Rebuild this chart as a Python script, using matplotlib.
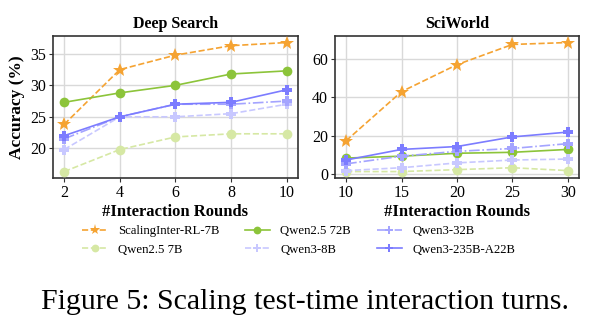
import matplotlib.pyplot as plt

plt.rcParams['font.family'] = ['Liberation Serif', 'DejaVu Serif']

# Deep Search results
ds_rounds = [2, 4, 6, 8, 10]
ds_scaling = [23.8, 32.5, 34.8, 36.3, 36.8]
ds_q25_7b = [16.3, 19.8, 21.8, 22.3, 22.3]
ds_q25_72b = [27.3, 28.8, 30.0, 31.8, 32.3]
ds_q3_8b = [19.8, 25.0, 25.0, 25.5, 27.0]
ds_q3_32b = [21.5, 25.0, 27.0, 27.0, 27.5]
ds_q3_235b = [22.0, 25.0, 27.0, 27.3, 29.3]

# SciWorld results
sw_rounds = [10, 15, 20, 25, 30]
sw_scaling = [17.5, 43.0, 57.0, 67.5, 68.5]
sw_q25_7b = [1.5, 1.5, 2.5, 3.5, 2.0]
sw_q25_72b = [8.5, 9.5, 11.0, 11.5, 13.0]
sw_q3_8b = [2.0, 3.5, 6.0, 7.5, 8.0]
sw_q3_32b = [5.5, 9.5, 12.0, 13.5, 16.0]
sw_q3_235b = [7.5, 13.0, 14.5, 19.5, 22.0]

models = ['ScalingInter-RL-7B', 'Qwen2.5 7B', 'Qwen2.5 72B',
          'Qwen3-8B', 'Qwen3-32B', 'Qwen3-235B-A22B']
styles = {
    'ScalingInter-RL-7B': dict(color='#F5A332', ls='--', marker='*', ms=10),
    'Qwen2.5 7B': dict(color='#D6E8A4', ls='--', marker='o', ms=7),
    'Qwen2.5 72B': dict(color='#8CC43A', ls='-', marker='o', ms=7),
    'Qwen3-8B': dict(color='#C8C8FF', ls='--', marker='P', ms=7.5),
    'Qwen3-32B': dict(color='#A4A4FF', ls='-.', marker='P', ms=7.5),
    'Qwen3-235B-A22B': dict(color='#7C7CFF', ls='-', marker='P', ms=7.5),
}

fig = plt.figure(figsize=(6.13, 3.34), dpi=100)
ax1 = fig.add_axes([0.0865, 0.467, 0.3995, 0.425])
ax2 = fig.add_axes([0.5465, 0.467, 0.398, 0.425])

panels = [
    (ax1, 'Deep Search', ds_rounds,
     [ds_scaling, ds_q25_7b, ds_q25_72b, ds_q3_8b, ds_q3_32b, ds_q3_235b]),
    (ax2, 'SciWorld', sw_rounds,
     [sw_scaling, sw_q25_7b, sw_q25_72b, sw_q3_8b, sw_q3_32b, sw_q3_235b]),
]

handles = []
for ax, title, rounds, series in panels:
    for name, vals in zip(models, series):
        st = styles[name]
        h, = ax.plot(rounds, vals, label=name, lw=1.2, color=st['color'],
                     ls=st['ls'], marker=st['marker'], ms=st['ms'],
                     markeredgewidth=0, zorder=3)
        if ax is ax1:
            handles.append(h)
    ax.set_xticks(rounds)
    ax.set_title(title, fontsize=11.5, fontweight='bold', pad=6)
    ax.set_xlabel('#Interaction Rounds', fontsize=12, fontweight='bold',
                  labelpad=2)
    ax.grid(True, color='#d9d9d9', lw=1)
    ax.set_axisbelow(True)
    ax.tick_params(labelsize=11.5, length=3, pad=2, color='#333333')
    for sp in ax.spines.values():
        sp.set_color('#333333')
        sp.set_linewidth(1.2)

ax1.set_ylabel('Accuracy (%)', fontsize=12.5, fontweight='bold')
ax1.set_yticks([20, 25, 30, 35])
ax2.set_yticks([0, 20, 40, 60])

fig.legend(handles=handles, labels=models, ncol=3, loc='upper center',
           bbox_to_anchor=(0.487, 0.36), frameon=False, fontsize=9.2,
           handlelength=2.0, handletextpad=0.8, columnspacing=2.0,
           labelspacing=0.5, markerscale=0.8)

fig.text(0.497, 0.096, 'Figure 5: Scaling test-time interaction turns.',
         ha='center', va='center', fontsize=21.5)

fig.savefig('out.png', dpi=100)
